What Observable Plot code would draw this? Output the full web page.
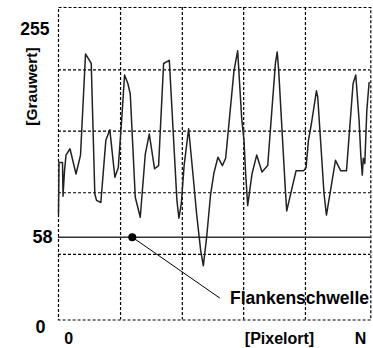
<!DOCTYPE html>
<html>
<head>
<meta charset="utf-8">
<script src="https://cdn.jsdelivr.net/npm/d3@7"></script>
<script src="https://cdn.jsdelivr.net/npm/@observablehq/plot@0.6"></script>
<style>
  html, body { margin: 0; padding: 0; background: #fff; }
  svg { display: block; }
</style>
</head>
<body>
<div id="chart"></div>
<script>
// ---- data ----
const N = 312; // number of pixel positions (Pixelort)
const pixelort = [0, 0.5, 4, 4.5, 6, 7.5, 11.5, 17.5, 22, 27, 30.3, 32.7, 36.3, 38, 42.3, 47.3, 51.3, 56.3, 59.7, 63.3,
  66, 69.3, 71.7, 76.7, 81.7, 86.7, 90.7, 96, 100, 105, 110.7, 118.3, 120.3, 122.7, 125.5, 130, 134.3, 138, 142, 144.7,
  148, 152, 155.3, 159.3, 163.7, 167, 175.3, 179, 183, 185.3, 187, 189, 193.3, 198, 203.3, 209, 216.7, 218.5, 220, 226.7,
  228, 237.3, 244.7, 247.3, 249.7, 252.7, 257.7, 259, 265.3, 267.7, 276.7, 282, 287.7, 294.3, 297, 300.3, 302, 303.5, 304.5, 306,
  308, 310.3];
const grauwert = [80, 129, 129, 97, 121, 136, 142, 118, 136, 232, 227, 223, 99, 93, 91, 150, 160, 115, 124, 172,
  212, 204, 194, 96, 77, 137, 156, 123, 126, 223, 226, 93, 76, 90, 126, 161, 118, 80, 49, 38,
  58, 99, 119, 134, 126, 133, 216, 235, 171, 150, 118, 88, 118, 136, 120, 126, 223, 234, 216, 102,
  83, 121, 121, 124, 150, 166, 197, 191, 99, 79, 131, 121, 121, 204, 212, 169, 136, 117, 133, 128,
  178, 205];
const threshold = 58;            // Flankenschwelle
const thresholdMarkerX = 73.7;   // where the threshold is annotated
const labelAnchor = {x: 161.3, y: 15.3}; // end of leader line
const labelText = "Flankenschwelle";
const yTickValues = [255, 58, 0];
const yTickLabels = ["255", "58", "0"];
const xTickValues = [0, N];
const xTickLabels = ["0", "N"];
const xTitle = "[Pixelort]";
const yTitle = "[Grauwert]";
const gridXValues = [62, 123.7, 185, 246.7];
const gridYValues = [45.9, 100.2, 158.7, 217];

// ---- build ----
const trace = pixelort.map((x, i) => ({x, y: grauwert[i]}));
const font = "'Liberation Sans', Arial, Helvetica, sans-serif";
const dash = "3,2";
// schematic (piecewise) grey-value axis: 0..58 and 58..255 are drawn at different spacings
const yDisplay = d3.scaleLinear().domain([0, 58, 255]).range([0, 82.8, 290.2]);

const plot = Plot.plot({
  width: 373,
  height: 348,
  marginLeft: 58,
  marginRight: 2.7,
  marginTop: 7,
  marginBottom: 28.5,
  style: {fontFamily: font, fontWeight: "bold", background: "white", color: "#000", overflow: "visible"},
  x: {domain: [0, N], axis: null},
  y: {transform: yDisplay, domain: [0, 312.5], axis: null},
  marks: [
    Plot.ruleX(gridXValues, {stroke: "#000", strokeDasharray: dash, strokeWidth: 1.2}),
    Plot.ruleY(gridYValues, {stroke: "#000", strokeDasharray: dash, strokeWidth: 1.2}),
    Plot.frame({stroke: "#000", strokeDasharray: dash, strokeWidth: 1.2}),
    Plot.ruleY([threshold], {x1: 0, x2: N, stroke: "#333", strokeWidth: 1.5}),
    Plot.line(trace, {x: "x", y: "y", stroke: "#222", strokeWidth: 1.5}),
    Plot.link([{x1: thresholdMarkerX, y1: threshold, x2: labelAnchor.x, y2: labelAnchor.y}],
      {x1: "x1", y1: "y1", x2: "x2", y2: "y2", stroke: "#000", strokeWidth: 1}),
    Plot.dot([{x: thresholdMarkerX, y: threshold}], {x: "x", y: "y", r: 4, fill: "#000", stroke: "none"}),
    Plot.text([labelText], {x: () => labelAnchor.x, y: () => labelAnchor.y, text: d => d,
      textAnchor: "start", lineAnchor: "middle", dx: 10, fontSize: 17.5, fontWeight: "bold", fill: "#000"}),
    // y tick labels
    Plot.text([0], {y: i => yTickValues[i], text: i => yTickLabels[i], frameAnchor: "left", textAnchor: "end", lineAnchor: "middle", dx: -9, fontSize: 17.5, fontWeight: "bold"}),
    Plot.text([1], {y: i => yTickValues[i], text: i => yTickLabels[i], frameAnchor: "left", textAnchor: "end", lineAnchor: "middle", dx: -6, fontSize: 18, fontWeight: "bold"}),
    Plot.text([2], {y: i => yTickValues[i], text: i => yTickLabels[i], frameAnchor: "left", textAnchor: "end", lineAnchor: "middle", dx: -13, dy: 7, fontSize: 18, fontWeight: "bold"}),
    // x tick labels
    Plot.text([0], {x: i => xTickValues[i], text: i => xTickLabels[i], frameAnchor: "bottom", textAnchor: "middle", lineAnchor: "middle", dx: 10.3, dy: 18.5, fontSize: 16, fontWeight: "bold"}),
    Plot.text([1], {x: i => xTickValues[i], text: i => xTickLabels[i], frameAnchor: "bottom", textAnchor: "middle", lineAnchor: "middle", dx: -10.3, dy: 18.5, fontSize: 16, fontWeight: "bold"}),
    // axis titles
    Plot.text([xTitle], {frameAnchor: "bottom-left", text: d => d, textAnchor: "middle", lineAnchor: "middle", dx: 221, dy: 18.5, fontSize: 16, fontWeight: "bold"}),
    Plot.text([yTitle], {frameAnchor: "top-left", text: d => d, textAnchor: "middle", lineAnchor: "middle", dx: -26, dy: 79, rotate: -90, fontSize: 15.5, fontWeight: "bold"})
  ]
});
document.getElementById("chart").appendChild(plot);
</script>
</body>
</html>
